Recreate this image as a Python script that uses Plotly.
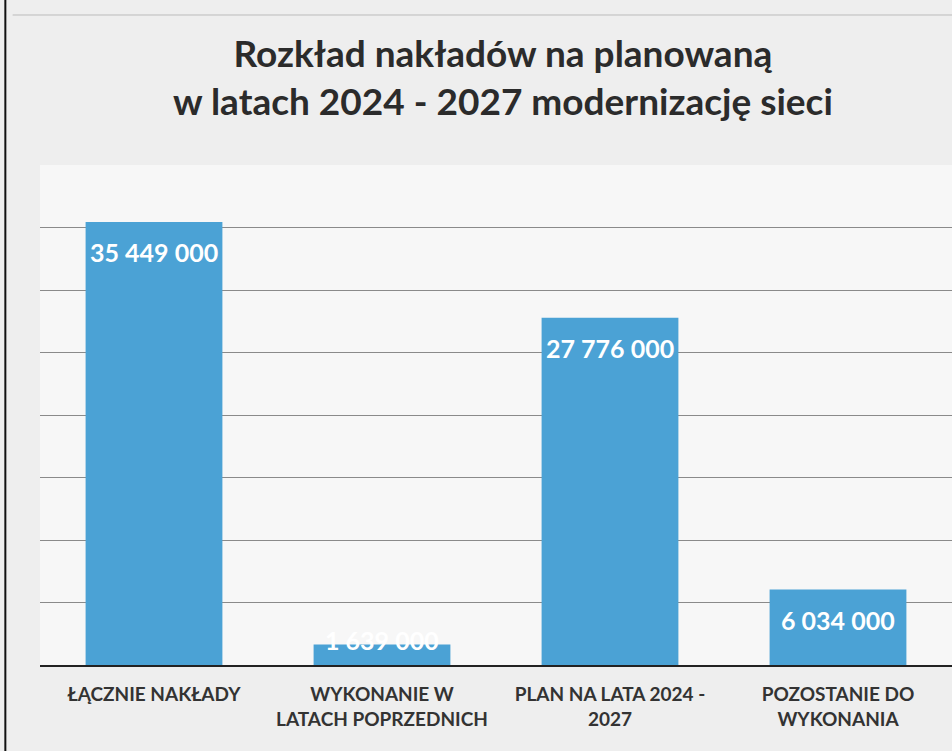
import plotly.graph_objects as go

categories = ["ŁĄCZNIE NAKŁADY", "WYKONANIE W<br>LATACH POPRZEDNICH", "PLAN NA LATA 2024 -<br>2027", "POZOSTANIE DO<br>WYKONANIA"]
values = [35449000, 1639000, 27776000, 6034000]
value_labels = ["35 449 000", "1 639 000", "27 776 000", "6 034 000"]
title_lines = ["Rozkład nakładów na planowaną", "w latach 2024 - 2027 modernizację sieci"]

W, H = 952, 751
FONT = "Lato"
BAR = "#4ba2d5"

fig = go.Figure(go.Bar(
    x=categories, y=values,
    marker=dict(color=BAR, line=dict(width=0)),
    hoverinfo="skip",
))

ymax = 40000000
for c, v, t in zip(categories, values, value_labels):
    small = v < ymax * 0.1
    fig.add_annotation(
        x=c, y=v, xref="x", yref="y", text=t, showarrow=False,
        yanchor="middle", yshift=(5 if small else -30),
        font=dict(family=FONT, size=25, color="white", weight="bold"),
    )

fig.add_annotation(
    text="<br>".join(title_lines), xref="paper", yref="paper",
    x=0.508, y=1.0, yshift=137, xanchor="center", yanchor="top", showarrow=False,
    font=dict(family=FONT, size=37, color="#2b2b2b", weight="bold"),
)

# left page border of the scanned sheet
fig.add_shape(type="line", xref="paper", yref="paper", x0=-0.038, x1=-0.038, y0=-0.2, y1=1.4,
              line=dict(color="#111", width=2))
fig.add_shape(type="line", xref="paper", yref="paper", x0=-0.03, x1=1.02, y0=1.3, y1=1.3,
              line=dict(color="#bbb", width=1))

fig.update_layout(
    width=W, height=H,
    margin=dict(l=40, r=0, t=165, b=86),
    paper_bgcolor="#eeeeee", plot_bgcolor="#f7f7f7",
    bargap=0.4, showlegend=False,
    font=dict(family=FONT, color="#333"),
    xaxis=dict(
        showline=True, linecolor="#222", linewidth=2, ticks="",
        tickfont=dict(family=FONT, size=19, color="#333", weight="bold"),
        ticklabelstandoff=11, showgrid=False, fixedrange=True,
    ),
    yaxis=dict(
        range=[0, ymax], dtick=5000000, showticklabels=False, ticks="",
        showgrid=True, gridcolor="#8a8a8a", gridwidth=1, zeroline=False, showline=False,
        fixedrange=True,
    ),
)

fig.write_html("out.html", config={"displayModeBar": False},
               post_script="document.body.style.margin='0';")
